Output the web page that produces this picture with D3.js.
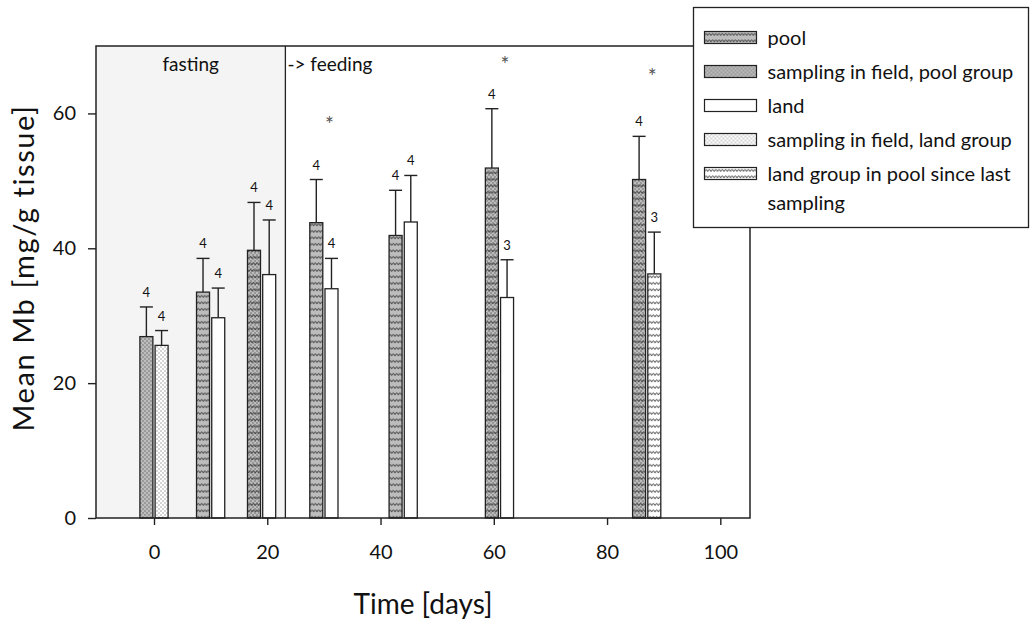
<!DOCTYPE html>
<html>
<head>
<meta charset="utf-8">
<script src="https://cdn.jsdelivr.net/npm/d3@7"></script>
<style>
  body { margin: 0; background: #fff; }
  svg text { font-family: Lato, "Noto Sans", sans-serif; fill: #111; }
</style>
</head>
<body>
<div id="chart"></div>
<script>
// values (day of sampling, mean, upper error, n)
const poolDays = [10, 19, 30, 44, 61, 87];
const poolMean = [33.5, 39.7, 43.8, 41.9, 51.9, 50.2];
const poolErr  = [5.0, 7.1, 6.4, 6.7, 8.8, 6.4];
const poolN    = [4, 4, 4, 4, 4, 4];

const fieldPoolDays = [0];
const fieldPoolMean = [26.9];
const fieldPoolErr  = [4.4];
const fieldPoolN    = [4];
// days where the field sampling of the pool group sits under the pool bar
const fieldPoolOverlapDays = [19, 61, 87];

const landDays = [10, 19, 30, 44, 61];
const landMean = [29.7, 36.1, 34.0, 43.9, 32.7];
const landErr  = [4.4, 8.1, 4.5, 6.9, 5.6];
const landN    = [4, 4, 4, 4, 3];

const fieldLandDays = [0];
const fieldLandMean = [25.6];
const fieldLandErr  = [2.2];
const fieldLandN    = [4];

const landPoolDays = [87];
const landPoolMean = [36.2];
const landPoolErr  = [6.2];
const landPoolN    = [3];

const sigDays = [30, 61, 87];
const sigLevel = [58.9, 67.8, 66.0];

const fastingEnd = 23.2;
const xTicks = [0, 20, 40, 60, 80, 100];
const yTicks = [0, 20, 40, 60];

const legendLabels = ["pool", "sampling in field, pool group", "land",
                      "sampling in field, land group", "land group in pool since last"];

var margin = {top: 46, left: 96},
    width = 654,
    height = 472;

const svg = d3.select("#chart").append("svg")
    .attr("width", 1031)
    .attr("height", 621);

// patterns
const defs = svg.append("defs");
function wavePattern(id, bg) {
  const p = defs.append("pattern").attr("id", id)
      .attr("patternUnits", "userSpaceOnUse")
      .attr("width", 6.5).attr("height", 6.5);
  if (bg) p.append("rect").attr("width", 6.5).attr("height", 6.5).attr("fill", bg);
  p.append("path").attr("d", "M0,4.5 Q1.625,0.5 3.25,4.5 Q4.875,0.5 6.5,4.5")
      .attr("fill", "none").attr("stroke", "#222").attr("stroke-width", 0.9);
}
function dotPattern(id, bg, col) {
  const p = defs.append("pattern").attr("id", id)
      .attr("patternUnits", "userSpaceOnUse")
      .attr("width", 4).attr("height", 4);
  if (bg) p.append("rect").attr("width", 4).attr("height", 4).attr("fill", bg);
  p.append("rect").attr("x", 0.5).attr("y", 0.5).attr("width", 1).attr("height", 1).attr("fill", col);
  p.append("rect").attr("x", 2.5).attr("y", 2.5).attr("width", 1).attr("height", 1).attr("fill", col);
}
wavePattern("wave-gray", "#bdbdbd");
wavePattern("wave-white", "#ffffff");
dotPattern("dot-gray", "#bdbdbd", "#333");
dotPattern("dot-white", "#ffffff", "#555");
dotPattern("dot-only", null, "#222");

const fills = ["url(#wave-gray)", "url(#dot-gray)", "#ffffff", "url(#dot-white)", "url(#wave-white)"];

const g = svg.append("g")
    .attr("transform", `translate(${margin.left}, ${margin.top})`);

const x = d3.scaleLinear().domain([-10.24, 105.24]).range([0, width]);
const y = d3.scaleLinear().domain([0, 70]).range([height, 0]);

// background: fasting period shaded
g.append("rect")
    .attr("x", 0).attr("y", 0)
    .attr("width", x(fastingEnd)).attr("height", height)
    .attr("fill", "#f4f4f4");

const barW = 13, shift = 7.6;

function series(days, mean, err, n, side, fill) {
  return days.map((d, i) => ({day: d, mean: mean[i], err: err[i], n: n[i], side: side, fill: fill}));
}
const bars = [].concat(
  series(poolDays, poolMean, poolErr, poolN, -1, fills[0]),
  series(fieldPoolDays, fieldPoolMean, fieldPoolErr, fieldPoolN, -1, fills[1]),
  series(landDays, landMean, landErr, landN, 1, fills[2]),
  series(fieldLandDays, fieldLandMean, fieldLandErr, fieldLandN, 1, fills[3]),
  series(landPoolDays, landPoolMean, landPoolErr, landPoolN, 1, fills[4])
);
function cx(d) { return x(d.day) + d.side * shift; }

// error bars (upper whisker only)
g.selectAll("line.err").data(bars).enter().append("line")
    .attr("x1", cx).attr("x2", cx)
    .attr("y1", d => y(d.mean)).attr("y2", d => y(d.mean + d.err))
    .attr("stroke", "#222").attr("stroke-width", 1.4);
g.selectAll("line.cap").data(bars).enter().append("line")
    .attr("x1", d => cx(d) - barW / 2).attr("x2", d => cx(d) + barW / 2)
    .attr("y1", d => y(d.mean + d.err)).attr("y2", d => y(d.mean + d.err))
    .attr("stroke", "#222").attr("stroke-width", 1.4);

g.selectAll("rect.bar").data(bars).enter().append("rect")
    .attr("x", d => cx(d) - barW / 2)
    .attr("y", d => y(d.mean))
    .attr("width", barW)
    .attr("height", d => y(0) - y(d.mean))
    .attr("fill", d => d.fill)
    .attr("stroke", "#222").attr("stroke-width", 1.3);

// dotted overlay where the field sampling coincides with the pool bar
const overlap = bars.filter(d => d.side < 0 && fieldPoolOverlapDays.includes(d.day));
g.selectAll("rect.ov").data(overlap).enter().append("rect")
    .attr("x", d => cx(d) - barW / 2 + 1)
    .attr("y", d => y(d.mean) + 1)
    .attr("width", barW - 2)
    .attr("height", d => y(0) - y(d.mean) - 1)
    .attr("fill", "url(#dot-only)");

// n labels
g.selectAll("text.n").data(bars).enter().append("text")
    .attr("x", cx)
    .attr("y", d => y(d.mean + d.err) - 10)
    .attr("text-anchor", "middle")
    .style("font-size", "13px")
    .text(d => d.n);

// significance asterisks
g.selectAll("text.sig").data(sigDays).enter().append("text")
    .attr("x", (d) => x(d) + shift - 2)
    .attr("y", (d, i) => y(sigLevel[i]) + 11)
    .attr("text-anchor", "middle")
    .style("font-size", "21px")
    .style("fill", "#555")
    .text("*");

// period labels
g.append("text").attr("x", x(fastingEnd) / 2).attr("y", 25)
    .attr("text-anchor", "middle").style("font-size", "19px").text("fasting");
g.append("text").attr("x", x(fastingEnd) + 2).attr("y", 25)
    .style("font-size", "19px").text("-> feeding");

// frame
g.append("line").attr("x1", x(fastingEnd)).attr("x2", x(fastingEnd))
    .attr("y1", 0).attr("y2", height).attr("stroke", "#222").attr("stroke-width", 1.3);
g.append("rect").attr("width", width).attr("height", height)
    .attr("fill", "none").attr("stroke", "#222").attr("stroke-width", 1.5);

// axes
const xAxis = g.append("g").attr("transform", `translate(0, ${height})`)
    .call(d3.axisBottom(x).tickValues(xTicks).tickSize(7).tickPadding(20));
const yAxis = g.append("g")
    .call(d3.axisLeft(y).tickValues(yTicks).tickSize(8).tickPadding(12));
[xAxis, yAxis].forEach(a => {
  a.select(".domain").remove();
  a.selectAll("line").attr("stroke", "#222").attr("stroke-width", 1.4);
  a.selectAll("text").style("font-size", "20px").style("font-family", "Lato, sans-serif").attr("fill", "#111");
});

// axis titles
g.append("text").attr("x", width / 2).attr("y", height + 96)
    .attr("text-anchor", "middle").style("font-size", "28px").text("Time [days]");
svg.append("text")
    .attr("transform", `translate(34, ${margin.top + height / 2 - 14}) rotate(-90)`)
    .attr("text-anchor", "middle").style("font-size", "29px")
    .style("letter-spacing", "1.6px").text("Mean Mb [mg/g tissue]");

// legend
const lg = svg.append("g").attr("transform", "translate(693.5, 7.5)");
lg.append("rect").attr("width", 335).attr("height", 220)
    .attr("fill", "#fff").attr("stroke", "#222").attr("stroke-width", 1.3);
const rows = lg.selectAll("g.row").data(legendLabels).enter().append("g")
    .attr("transform", (d, i) => `translate(11, ${30 + i * 34})`);
rows.append("rect").attr("x", 0).attr("y", -6).attr("width", 52).attr("height", 12)
    .attr("fill", (d, i) => fills[i]).attr("stroke", "#222").attr("stroke-width", 1.2);
rows.append("text").attr("x", 63).attr("y", 7)
    .style("font-size", "20px").text(d => d);
lg.append("text").attr("x", 74).attr("y", 30 + 4 * 34 + 36)
    .style("font-size", "20px").text("sampling");
</script>
</body>
</html>
